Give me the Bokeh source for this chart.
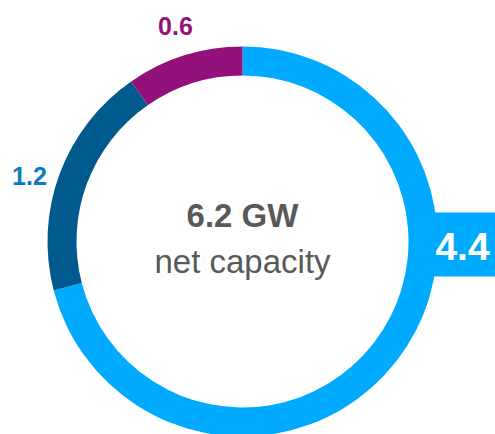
import math
from bokeh.plotting import figure
from bokeh.models import Range1d
from bokeh.core.properties import value
from bokeh.embed import file_html
from bokeh.resources import INLINE

# Data
categories = ["Segment A", "Segment B", "Segment C"]
values = [4.4, 1.2, 0.6]
labels = ["4.4", "1.2", "0.6"]
colors = ["#00AAFF", "#005A8E", "#92117B"]
total_label = "6.2 GW"
sub_label = "net capacity"

W, H = 495, 434
p = figure(width=W, height=H, output_backend="svg", toolbar_location=None,
           x_range=Range1d(0, W), y_range=Range1d(0, H), min_border=0)
p.axis.visible = False
p.grid.visible = False
p.outline_line_color = None
p.background_fill_color = "white"
p.border_fill_color = "white"

FONT = value("Liberation Sans")
cx, cy = 242, 193
r_out, r_in = 195, 166

# label box for largest segment
p.quad(left=[420], right=[500], top=[222], bottom=[158], fill_color=colors[0], line_color=None)

total = sum(values)
starts, ends = [], []
cum = 0.0
for v in values:
    starts.append(math.pi / 2 - cum / total * 2 * math.pi)
    cum += v
    ends.append(math.pi / 2 - cum / total * 2 * math.pi)

p.annular_wedge(x=[cx] * 3, y=[cy] * 3, inner_radius=r_in, outer_radius=r_out,
                inner_radius_units="screen", outer_radius_units="screen",
                start_angle=starts, end_angle=ends, direction="clock",
                fill_color=colors, line_color=None)

p.text(x=[462], y=[188], text=[labels[0]], text_font=FONT, text_font_style="bold",
       text_font_size="39px", text_color="white", text_align="center", text_baseline="alphabetic")
p.text(x=[29], y=[259], text=[labels[1]], text_font=FONT, text_font_style="bold",
       text_font_size="25px", text_color="#0A7CC3", text_align="center", text_baseline="alphabetic")
p.text(x=[175], y=[409], text=[labels[2]], text_font=FONT, text_font_style="bold",
       text_font_size="25px", text_color=colors[2], text_align="center", text_baseline="alphabetic")
p.text(x=[cx], y=[219], text=[total_label], text_font=FONT, text_font_style="bold",
       text_font_size="33px", text_color="#595959", text_align="center", text_baseline="alphabetic")
p.text(x=[cx], y=[173], text=[sub_label], text_font=FONT, text_font_style="normal",
       text_font_size="33px", text_color="#595959", text_align="center", text_baseline="alphabetic")

open("out.html", "w").write(file_html(p, INLINE))
